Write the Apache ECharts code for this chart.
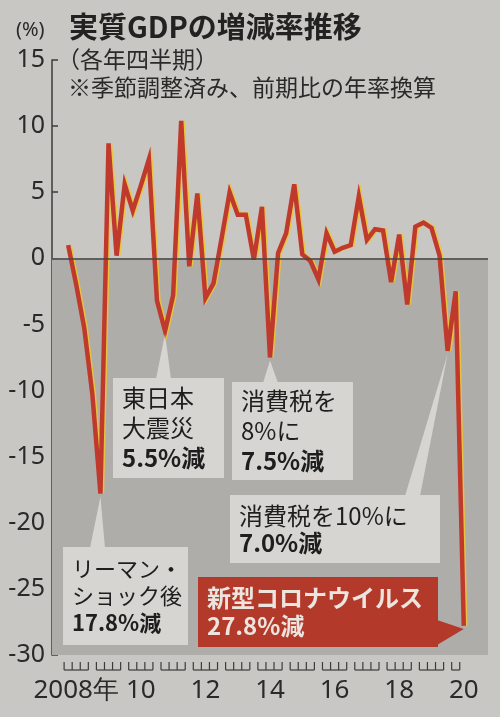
<!DOCTYPE html>
<html>
<head>
<meta charset="utf-8">
<script src="https://cdn.jsdelivr.net/npm/echarts@6/dist/echarts.min.js"></script>
<style>
  html, body { margin: 0; padding: 0; background: #c9c7c3; }
  #chart { width: 500px; height: 717px; }
</style>
</head>
<body>
<div id="chart"></div>
<script>
(() => {
  // 年ごとの四半期数（2020年は4-6月期まで）
  const years = [2008, 2009, 2010, 2011, 2012, 2013, 2014, 2015, 2016, 2017, 2018, 2019, 2020];
  const quarterCounts = [4, 4, 4, 4, 4, 4, 4, 4, 4, 4, 4, 4, 2];

  // 実質GDP 前期比年率（%）
  const growth = [
    1.0, -2.0, -5.3, -10.3,
    -17.8, 8.7, 0.2, 5.6,
    3.6, 5.5, 7.5, -3.2,
    -5.5, -2.8, 10.4, -0.6,
    4.9, -3.0, -1.9, 1.5,
    5.0, 3.3, 3.3, -0.1,
    3.9, -7.5, 0.4, 1.9,
    5.6, 0.3, -0.2, -1.6,
    1.9, 0.5, 0.8, 1.0,
    4.7, 1.4, 2.2, 2.1,
    -1.8, 1.8, -3.5, 2.4,
    2.7, 2.3, 0.2, -7.0,
    -2.5, -27.8
  ];

  // 横軸ラベル（四半期の通し番号の位置）
  const xLabelIdx = [1, 9, 17, 25, 33, 41, 49];
  const xLabels = ['2008年', '10', '12', '14', '16', '18', '20'];

  // 吹き出し
  const noteIdx = [4, 12, 25, 47, 49];
  const noteLines = [
    ['リーマン・', 'ショック後', '17.8%減'],
    ['東日本', '大震災', '5.5%減'],
    ['消費税を', '8%に', '7.5%減'],
    ['消費税を10%に', '7.0%減'],
    ['新型コロナウイルス', '27.8%減']
  ];

  const Y_MIN = -30, Y_MAX = 15;
  const X_MIN = -2, X_MAX = 52;
  const CJK = '"Noto Sans CJK JP", sans-serif';
  const NUM = '"Liberation Sans Narrow", "Noto Sans", sans-serif';

  const labelMap = {};
  xLabelIdx.forEach((v, i) => { labelMap[v] = xLabels[i]; });

  // 年ごとの目盛り括弧
  const brackets = [];
  let q = 0;
  years.forEach((y, k) => {
    brackets.push([q - 0.5, q - 0.5 + quarterCounts[k] - 1, Y_MIN]);
    q += quarterCounts[k];
  });

  const chart = echarts.init(document.getElementById('chart'));

  const option = {
    backgroundColor: '#c9c7c3',
    animation: false,
    grid: { left: 52, right: 12, top: 60, bottom: 62 },
    xAxis: {
      type: 'value',
      min: X_MIN,
      max: X_MAX,
      axisLine: { show: false, onZero: false },
      axisTick: { show: false },
      splitLine: { show: false },
      axisLabel: {
        customValues: xLabelIdx,
        formatter: v => labelMap[v] || '',
        margin: 23,
        fontSize: 26,
        color: '#2a2a2a',
        fontFamily: NUM
      }
    },
    yAxis: {
      type: 'value',
      min: Y_MIN,
      max: Y_MAX,
      interval: 5,
      axisLine: { show: true, onZero: false, lineStyle: { color: '#3c3c3c', width: 1.5 } },
      axisTick: { show: true, inside: true, length: 6, lineStyle: { color: '#3c3c3c', width: 1.5 } },
      splitLine: { show: false },
      axisLabel: { margin: 7, fontSize: 25, color: '#2a2a2a', fontFamily: NUM }
    },
    series: [
      {
        type: 'line',
        z: 1,
        data: [],
        silent: true,
        markArea: {
          silent: true,
          itemStyle: { color: '#aeadaa' },
          data: [[{ yAxis: 0 }, { yAxis: Y_MIN }]]
        },
        markLine: {
          silent: true,
          symbol: 'none',
          label: { show: false },
          lineStyle: { color: '#444', width: 1.5, type: 'solid' },
          data: [{ yAxis: 0 }]
        }
      },
      {
        type: 'custom',
        z: 2,
        clip: false,
        silent: true,
        encode: { x: [0, 1], y: 2 },
        data: brackets,
        renderItem: (params, api) => {
          const s = api.value(0), e = api.value(1);
          const p0 = api.coord([s, Y_MIN]);
          const p1 = api.coord([e, Y_MIN]);
          const yb = p0[1] + 15;
          const st = { stroke: '#3c3c3c', lineWidth: 1.2 };
          const children = [{ type: 'line', shape: { x1: p0[0], y1: yb, x2: p1[0], y2: yb }, style: st }];
          for (let v = s; v <= e + 1e-6; v += 1) {
            const px = api.coord([v, Y_MIN])[0];
            children.push({ type: 'line', shape: { x1: px, y1: yb, x2: px, y2: yb - 8 }, style: st });
          }
          return { type: 'group', children };
        }
      },
      {
        type: 'line',
        z: 3,
        symbol: 'none',
        data: growth.map((v, i) => [i, v]),
        lineStyle: {
          color: '#bf3a2c',
          width: 4.5,
          join: 'miter',
          miterLimit: 6,
          shadowColor: 'rgba(236, 196, 50, 0.9)',
          shadowOffsetX: 1.5,
          shadowBlur: 0
        }
      }
    ]
  };

  chart.setOption(option);

  const pt = i => chart.convertToPixel({ gridIndex: 0 }, [i, growth[i]]);

  // 吹き出しの配置（箱、行の高さ、文字サイズ、三角の付け根）
  const noteLayout = [
    { box: [63, 547, 125, 98], size: 22, lh: 27, base: [[90, 548], [105, 548]], fill: '#d6d5d1', color: '#1e1e1e' },
    { box: [113, 378, 111, 100], size: 24, lh: 30, base: [[156, 379], [171, 379]], fill: '#d6d5d1', color: '#1e1e1e' },
    { box: [232, 382, 121, 98], size: 24, lh: 30, base: [[263, 383], [278, 383]], fill: '#d6d5d1', color: '#1e1e1e' },
    { box: [230, 495, 210, 68], size: 24, lh: 27, base: [[405, 496], [420, 496]], fill: '#d6d5d1', color: '#1e1e1e' },
    { box: [198, 577, 240, 70], size: 24, lh: 28, base: [[437, 620], [437, 645]], fill: '#b3392a', color: '#ece4de', allBold: true }
  ];

  const graphics = [];
  noteIdx.forEach((idx, k) => {
    const L = noteLayout[k];
    const p = pt(idx);
    const tip = [p[0], p[1] + 3];
    graphics.push({
      type: 'polygon',
      z: 10,
      shape: { points: [L.base[0], L.base[1], tip] },
      style: { fill: L.fill }
    });
    graphics.push({
      type: 'rect',
      z: 10,
      shape: { x: L.box[0], y: L.box[1], width: L.box[2], height: L.box[3] },
      style: { fill: L.fill }
    });
    const lines = noteLines[k];
    const text = lines.map((l, j) => (L.allBold || j === lines.length - 1 ? '{b|' : '{n|') + l + '}').join('\n');
    graphics.push({
      type: 'text',
      z: 11,
      x: L.box[0] + 9,
      y: L.box[1] + (L.box[3] - L.lh * lines.length) / 2,
      style: {
        text,
        fill: L.color,
        rich: {
          n: { fontSize: L.size, fontFamily: CJK, fontWeight: 'normal', lineHeight: L.lh, fill: L.color },
          b: { fontSize: L.size, fontFamily: CJK, fontWeight: 'bold', lineHeight: L.lh, fill: L.color }
        }
      }
    });
  });

  // 見出し
  graphics.push(
    { type: 'text', z: 11, x: 16, y: 20, style: { text: '(%)', font: '20px "Noto Sans", sans-serif', fill: '#2a2a2a' } },
    { type: 'text', z: 11, x: 69, y: 12, style: { text: '実質GDPの増減率推移', font: 'bold 29px ' + CJK, fill: '#222' } },
    { type: 'text', z: 11, x: 57, y: 48, style: { text: '（各年四半期）', font: '23px ' + CJK, fill: '#2a2a2a' } },
    { type: 'text', z: 11, x: 68, y: 76, style: { text: '※季節調整済み、前期比の年率換算', font: '23px ' + CJK, fill: '#2a2a2a' } }
  );

  chart.setOption({ graphic: graphics });
})();
</script>
</body>
</html>
